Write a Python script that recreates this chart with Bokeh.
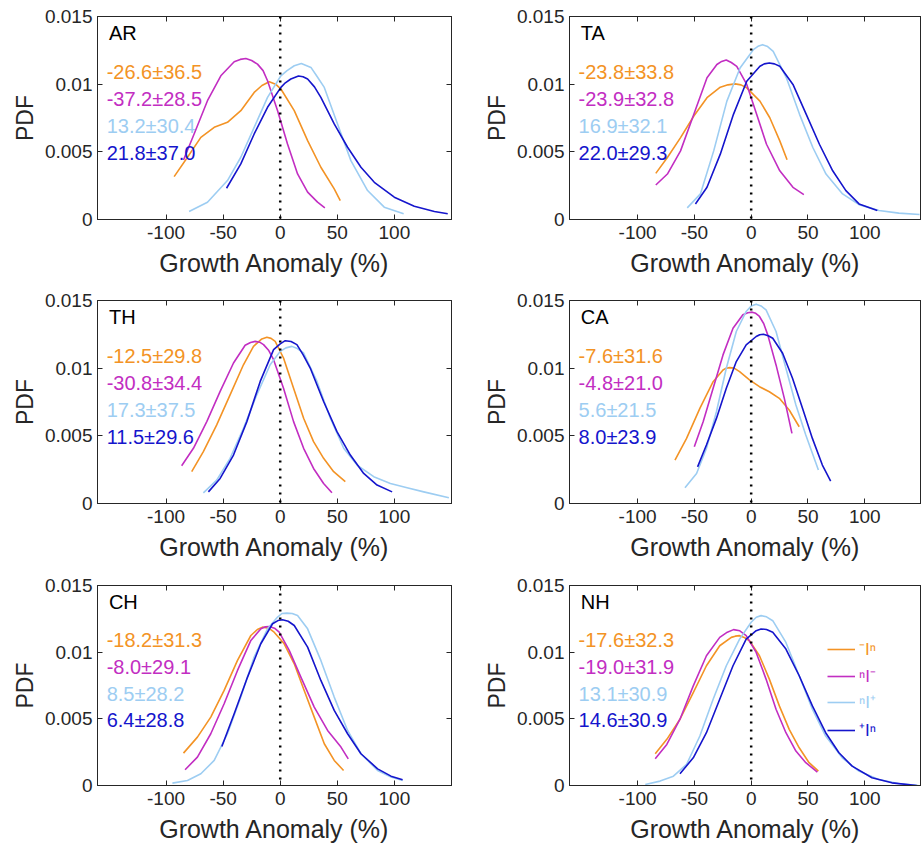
from bokeh.plotting import figure
from bokeh.models import (Range1d, FixedTicker, CustomJSTickFormatter, LinearAxis,
                          Span, Legend, LegendItem, Label, CustomLabelingPolicy)
from bokeh.layouts import column, row
from bokeh.embed import file_html
from bokeh.resources import INLINE

# ---------------- data ----------------
REGIONS = ["AR", "TA", "TH", "CA", "CH", "NH"]
SERIES = ["⁻Iⁿ", "ⁿI⁻", "ⁿI⁺", "⁺Iⁿ"]
KEYS = ["mn", "nm", "np", "pn"]
COLORS = ["#F39325", "#C22EC2", "#9DCDF2", "#1515CC"]
X_TICKS = [-100, -50, 0, 50, 100]
Y_TICKS = [0, 0.005, 0.01, 0.015]

AR_stats = ["-26.6±36.5", "-37.2±28.5", "13.2±30.4", "21.8±37.0"]
TA_stats = ["-23.8±33.8", "-23.9±32.8", "16.9±32.1", "22.0±29.3"]
TH_stats = ["-12.5±29.8", "-30.8±34.4", "17.3±37.5", "11.5±29.6"]
CA_stats = ["-7.6±31.6", "-4.8±21.0", "5.6±21.5", "8.0±23.9"]
CH_stats = ["-18.2±31.3", "-8.0±29.1", "8.5±28.2", "6.4±28.8"]
NH_stats = ["-17.6±32.3", "-19.0±31.9", "13.1±30.9", "14.6±30.9"]

# AR
AR_mn_x = [-92.9, -81.2, -69.5, -57.8, -46.2, -34.5, -22.8, -16.0, -9.6, -4.0, 0.6, 12.3, 24.0, 35.6, 47.3, 52.6]
AR_mn_y = [0.00317, 0.0046, 0.00607, 0.00681, 0.00718, 0.00804, 0.00939, 0.0099, 0.01018, 0.0100, 0.00964, 0.00804, 0.00583, 0.00386, 0.00226, 0.0014]
AR_nm_x = [-84.7, -75.4, -63.7, -52.0, -40.3, -35.0, -30.1, -25.0, -19.9, -15.0, -11.1, -2.3, 6.4, 15.2, 24.0, 32.7, 39.1]
AR_nm_y = [0.0044, 0.00632, 0.00878, 0.01062, 0.01166, 0.01183, 0.0119, 0.01175, 0.01148, 0.0110, 0.01025, 0.00804, 0.00558, 0.00337, 0.00202, 0.00128, 0.00086]
AR_np_x = [-79.8, -63.7, -46.2, -34.5, -22.8, -11.1, 0.6, 6.0, 12.3, 18.5, 26.9, 32.0, 38.6, 50.2, 61.9, 76.5, 91.1, 108.1]
AR_np_y = [0.00059, 0.00128, 0.00288, 0.0046, 0.00681, 0.00902, 0.01062, 0.0110, 0.01136, 0.01153, 0.01124, 0.0106, 0.00976, 0.00706, 0.00435, 0.00214, 0.00091, 0.00042]
AR_pn_x = [-47.0, -34.5, -22.8, -11.1, 0.6, 4.5, 9.3, 16.0, 20.0, 24.0, 30.0, 35.6, 47.3, 59.0, 70.7, 82.4, 99.9, 117.4, 135.0, 146.7]
AR_pn_y = [0.00231, 0.00411, 0.00632, 0.00829, 0.00976, 0.0101, 0.01038, 0.0106, 0.01055, 0.01038, 0.0098, 0.00902, 0.00706, 0.00534, 0.00386, 0.00275, 0.00165, 0.00098, 0.00059, 0.00042]

# TA
TA_mn_x = [-84.0, -73.8, -62.2, -50.5, -38.9, -27.2, -20.5, -14.1, -9.0, -3.9, 7.7, 16.4, 25.2, 31.6]
TA_mn_y = [0.00341, 0.00458, 0.00605, 0.00765, 0.009, 0.00978, 0.00995, 0.01002, 0.00995, 0.00973, 0.00875, 0.00752, 0.00581, 0.00441]
TA_nm_x = [-84.0, -73.8, -62.2, -50.5, -38.9, -30.2, -26.0, -22.0, -17.5, -12.7, -3.9, 4.8, 13.5, 25.2, 36.8, 46.4]
TA_nm_y = [0.00255, 0.00336, 0.00507, 0.00777, 0.01047, 0.01145, 0.01168, 0.01179, 0.0116, 0.01132, 0.00998, 0.00777, 0.00556, 0.0036, 0.00238, 0.00184]
TA_np_x = [-56.3, -44.7, -33.0, -21.4, -9.8, 1.9, 6.0, 10.0, 14.5, 19.4, 31.0, 42.6, 54.3, 65.9, 80.5, 95.0, 112.5, 130.0, 148.3]
TA_np_y = [0.00086, 0.00189, 0.00507, 0.00875, 0.0112, 0.01255, 0.0128, 0.01292, 0.01278, 0.01243, 0.01047, 0.00777, 0.00532, 0.00336, 0.00189, 0.0011, 0.00066, 0.00047, 0.00037]
TA_pn_x = [-49.1, -38.9, -27.2, -15.6, -3.9, 7.7, 11.5, 15.9, 20.5, 25.2, 36.8, 48.5, 60.1, 71.8, 83.4, 95.0, 111.1]
TA_pn_y = [0.00115, 0.00238, 0.00483, 0.00777, 0.01022, 0.01132, 0.0115, 0.01157, 0.0115, 0.01132, 0.00998, 0.00777, 0.00556, 0.0036, 0.00213, 0.00115, 0.00066]

# TH
TH_mn_x = [-77.5, -67.3, -55.6, -43.9, -32.2, -23.4, -16.1, -11.7, -8.0, -4.4, 2.9, 11.7, 20.5, 29.2, 38.0, 46.8, 57.0]
TH_mn_y = [0.00235, 0.00383, 0.00581, 0.00803, 0.01025, 0.01161, 0.01216, 0.01228, 0.0122, 0.01198, 0.01075, 0.00852, 0.0063, 0.00457, 0.00334, 0.00235, 0.00161]
TH_nm_x = [-86.3, -76.0, -64.3, -52.6, -40.9, -30.7, -26.0, -21.9, -18.0, -14.6, -10.0, -5.8, 2.9, 11.7, 20.5, 29.2, 38.0, 45.3]
TH_nm_y = [0.00279, 0.00408, 0.00605, 0.00828, 0.01038, 0.01169, 0.0119, 0.01198, 0.01192, 0.01174, 0.0113, 0.01063, 0.00852, 0.00605, 0.00408, 0.00259, 0.00148, 0.00079]
TH_np_x = [-67.3, -55.6, -43.9, -32.2, -20.5, -8.8, 0.0, 5.0, 10.2, 15.0, 20.5, 32.2, 43.9, 55.6, 67.3, 81.9, 96.5, 111.1, 125.7, 147.7]
TH_np_y = [0.00079, 0.00173, 0.00334, 0.00556, 0.00803, 0.01025, 0.01124, 0.0115, 0.01161, 0.01145, 0.01112, 0.00902, 0.0063, 0.00408, 0.00284, 0.00198, 0.00148, 0.00116, 0.00086, 0.00042]
TH_pn_x = [-62.9, -52.6, -40.9, -29.2, -17.5, -5.8, 0.0, 4.4, 9.5, 14.6, 20.0, 26.3, 38.0, 49.7, 61.4, 73.1, 84.8, 98.0]
TH_pn_y = [0.00086, 0.00185, 0.00358, 0.00605, 0.00902, 0.01137, 0.0118, 0.01203, 0.01197, 0.01174, 0.0110, 0.01001, 0.00754, 0.00531, 0.00358, 0.00222, 0.00136, 0.00086]

# CA
CA_mn_x = [-67.1, -56.9, -45.2, -33.5, -24.8, -22.0, -19.0, -15.0, -10.2, -1.5, 7.3, 16.0, 24.8, 33.5, 42.3]
CA_mn_y = [0.00321, 0.00481, 0.00703, 0.009, 0.00987, 0.0100, 0.01004, 0.0100, 0.00974, 0.00913, 0.00863, 0.00826, 0.00777, 0.00691, 0.00567]
CA_nm_x = [-50.1, -42.3, -33.5, -24.8, -16.0, -7.3, -3.0, 0.9, 4.0, 7.3, 11.0, 14.6, 21.9, 29.2, 35.9]
CA_nm_y = [0.00419, 0.00604, 0.00851, 0.01098, 0.01295, 0.01394, 0.0141, 0.01414, 0.01405, 0.01382, 0.0133, 0.01246, 0.01024, 0.00777, 0.00518]
CA_np_x = [-58.3, -48.1, -39.4, -30.6, -21.9, -13.1, -4.4, 0.0, 4.4, 8.7, 13.1, 21.9, 30.6, 39.4, 48.1, 59.2]
CA_np_y = [0.00116, 0.00222, 0.00407, 0.00678, 0.00999, 0.01271, 0.01419, 0.0146, 0.01473, 0.0146, 0.01431, 0.01271, 0.00999, 0.00728, 0.00506, 0.00247]
CA_pn_x = [-47.2, -39.4, -30.6, -21.9, -13.1, -4.4, 4.4, 7.5, 10.8, 15.0, 19.0, 27.7, 36.4, 45.2, 53.9, 62.7, 70.0]
CA_pn_y = [0.00271, 0.00432, 0.00629, 0.00851, 0.01049, 0.01172, 0.01234, 0.01247, 0.01251, 0.0124, 0.01221, 0.0111, 0.00925, 0.00703, 0.00481, 0.00284, 0.00165]

# CH
CH_mn_x = [-84.7, -72.5, -60.8, -49.1, -37.4, -25.7, -20.0, -15.5, -10.0, -5.3, 3.5, 12.3, 21.0, 29.8, 38.6, 47.3, 55.5]
CH_mn_y = [0.00243, 0.00363, 0.00513, 0.00713, 0.00938, 0.01125, 0.0117, 0.01188, 0.0118, 0.0115, 0.01063, 0.00913, 0.00713, 0.00513, 0.00313, 0.00188, 0.00113]
CH_nm_x = [-83.3, -72.5, -60.8, -49.1, -37.4, -25.7, -16.9, -13.0, -9.6, -5.0, -0.9, 7.9, 18.1, 29.8, 41.5, 53.2, 59.6]
CH_nm_y = [0.00118, 0.00213, 0.00388, 0.00613, 0.00863, 0.01088, 0.01175, 0.0119, 0.01193, 0.0118, 0.0115, 0.01013, 0.00813, 0.00588, 0.00413, 0.00288, 0.002]
CH_np_x = [-94.4, -81.2, -69.5, -57.8, -46.2, -34.5, -22.8, -11.1, -2.3, 1.5, 5.8, 10.5, 15.2, 24.0, 35.6, 47.3, 59.0, 70.7, 85.3, 97.0, 107.2]
CH_np_y = [0.00018, 0.00038, 0.00088, 0.00188, 0.00388, 0.00663, 0.00963, 0.01175, 0.01263, 0.0129, 0.01293, 0.0129, 0.01275, 0.01175, 0.00938, 0.00663, 0.00413, 0.00238, 0.00113, 0.00063, 0.00038]
CH_pn_x = [-51.1, -40.3, -28.6, -17.0, -6.7, -2.0, 2.0, 7.0, 12.3, 24.0, 35.6, 47.3, 59.0, 70.7, 85.3, 97.0, 107.2]
CH_pn_y = [0.00293, 0.00538, 0.00813, 0.01063, 0.01213, 0.01237, 0.01243, 0.01232, 0.012, 0.01038, 0.00788, 0.00563, 0.00388, 0.00238, 0.00125, 0.0007, 0.00043]

# NH
NH_mn_x = [-84.5, -74.3, -62.7, -51.0, -39.4, -27.7, -17.5, -14.0, -10.2, -6.0, -1.5, 7.3, 16.0, 24.8, 33.5, 42.3, 51.0, 59.2]
NH_mn_y = [0.00238, 0.00346, 0.00497, 0.00697, 0.00898, 0.01048, 0.01111, 0.0112, 0.01124, 0.0111, 0.01086, 0.00973, 0.00798, 0.00597, 0.00421, 0.00283, 0.00171, 0.00108]
NH_nm_x = [-84.5, -74.3, -62.7, -51.0, -39.4, -27.7, -21.0, -15.5, -10.0, -4.4, 4.4, 13.1, 21.9, 30.6, 39.4, 48.1, 58.3]
NH_nm_y = [0.00201, 0.00308, 0.00497, 0.00747, 0.00973, 0.01111, 0.0115, 0.01169, 0.0116, 0.01124, 0.00998, 0.00798, 0.00572, 0.00396, 0.00258, 0.00171, 0.001]
NH_np_x = [-93.3, -80.2, -68.5, -56.9, -45.2, -33.5, -21.9, -10.2, 0.0, 4.5, 8.7, 13.5, 19.0, 30.6, 42.3, 53.9, 65.6, 80.2, 94.8, 112.2, 129.7, 147.2]
NH_np_y = [0.00008, 0.00033, 0.0007, 0.00158, 0.00371, 0.00647, 0.00898, 0.01098, 0.01224, 0.01262, 0.01274, 0.01265, 0.01236, 0.01073, 0.00823, 0.00572, 0.00371, 0.00208, 0.00108, 0.00045, 0.00015, 0.0]
NH_pn_x = [-62.7, -51.0, -39.4, -27.7, -16.0, -4.4, 4.4, 8.7, 13.5, 19.0, 30.6, 42.3, 53.9, 65.6, 77.3, 88.9, 106.4, 123.9, 145.8]
NH_pn_y = [0.00088, 0.00208, 0.00396, 0.00647, 0.00898, 0.01098, 0.01161, 0.01174, 0.0117, 0.01149, 0.01023, 0.00823, 0.00597, 0.00396, 0.00246, 0.00145, 0.00058, 0.0002, 0.0]

STATS = {"AR": AR_stats, "TA": TA_stats, "TH": TH_stats, "CA": CA_stats, "CH": CH_stats, "NH": NH_stats}
G = globals()

# ---------------- layout / style ----------------
FONT = "Liberation Sans"
AXC = "#262626"
STAT_Y = [0.0109, 0.0089, 0.0069, 0.0049]
LEG_Y = [125, 98, 72, 44]

ROW_TOP = [16, 15, 16]
ROW_FRAME = [203, 203, 200]
ROW_BOTTOM = [66, 66, 61]

tick_fmt = "return tick.toString()"


def style_axis(ax, ticks, label=None):
    ax.ticker = FixedTicker(ticks=ticks)
    ax.formatter = CustomJSTickFormatter(code=tick_fmt)
    ax.major_tick_in = 5
    ax.major_tick_out = 0
    ax.minor_tick_in = 0
    ax.minor_tick_out = 0
    ax.axis_line_color = AXC
    ax.major_tick_line_color = AXC
    ax.major_label_text_color = AXC
    ax.major_label_text_font = FONT
    ax.major_label_text_font_size = "19px"
    if label is None:
        # mirrored tick marks only (no tick labels)
        ax.major_label_policy = CustomLabelingPolicy(code="return []")
        ax.major_label_text_font_size = "0px"
        ax.major_label_standoff = 0
    else:
        ax.axis_label = label
        ax.axis_label_text_font = FONT
        ax.axis_label_text_font_style = "normal"
        ax.axis_label_text_color = AXC


def make_panel(idx):
    region = REGIONS[idx]
    r, c = divmod(idx, 2)
    if c == 0:
        left, fw, right = 97, 354, 9
    else:
        left, fw, right = 109, 352, 0
    p = figure(frame_width=fw, frame_height=ROW_FRAME[r],
               min_border_left=left, min_border_right=right,
               min_border_top=ROW_TOP[r], min_border_bottom=ROW_BOTTOM[r],
               x_range=Range1d(-160, 150), y_range=Range1d(0, 0.015),
               output_backend="svg", toolbar_location=None,
               background_fill_color="white", border_fill_color="white")
    p.xgrid.visible = False
    p.ygrid.visible = False
    p.outline_line_color = AXC
    p.outline_line_width = 1

    xa = p.xaxis[0]
    ya = p.yaxis[0]
    style_axis(xa, X_TICKS, "Growth Anomaly (%)")
    xa.axis_label_text_font_size = "25px"
    xa.major_label_standoff = 6
    xa.axis_label_standoff = 7
    style_axis(ya, Y_TICKS, "PDF")
    ya.axis_label_text_font_size = "23px"
    ya.major_label_standoff = 5
    ya.axis_label_standoff = 4

    top_ax = LinearAxis()
    style_axis(top_ax, X_TICKS)
    p.add_layout(top_ax, "above")
    if c == 0:
        right_ax = LinearAxis()
        style_axis(right_ax, Y_TICKS)
        p.add_layout(right_ax, "right")

    p.add_layout(Span(location=0, dimension="height", line_color="black",
                      line_width=2.5, line_dash="2 6"))

    rends = []
    for k, col in zip(KEYS, COLORS):
        rends.append(p.line(G[f"{region}_{k}_x"], G[f"{region}_{k}_y"],
                            line_color=col, line_width=1.6, line_join="round"))

    p.add_layout(Label(x=-150, y=0.0138, text=region, text_font=FONT,
                       text_font_size="20px", text_color="black",
                       text_baseline="middle"))
    for s, col, yy in zip(STATS[region], COLORS, STAT_Y):
        p.add_layout(Label(x=-152, y=yy, text=s, text_font=FONT,
                           text_font_size="20px", text_color=col,
                           text_baseline="middle"))

    if region == "NH":
        for lab, col, rend, ly in zip(SERIES, COLORS, rends, LEG_Y):
            leg = Legend(items=[LegendItem(label=lab, renderers=[rend])],
                         location=(258, ly), padding=0, margin=0, spacing=0,
                         border_line_alpha=0, background_fill_alpha=0,
                         glyph_width=28, glyph_height=20, label_height=20,
                         label_standoff=4, label_text_color=col,
                         label_text_font=FONT, label_text_font_size="17px")
            p.add_layout(leg)
    return p


panels = [make_panel(i) for i in range(6)]
layout = column(row(panels[0], panels[1]), row(panels[2], panels[3]),
                row(panels[4], panels[5]))

open("out.html", "w").write(file_html(layout, INLINE))
